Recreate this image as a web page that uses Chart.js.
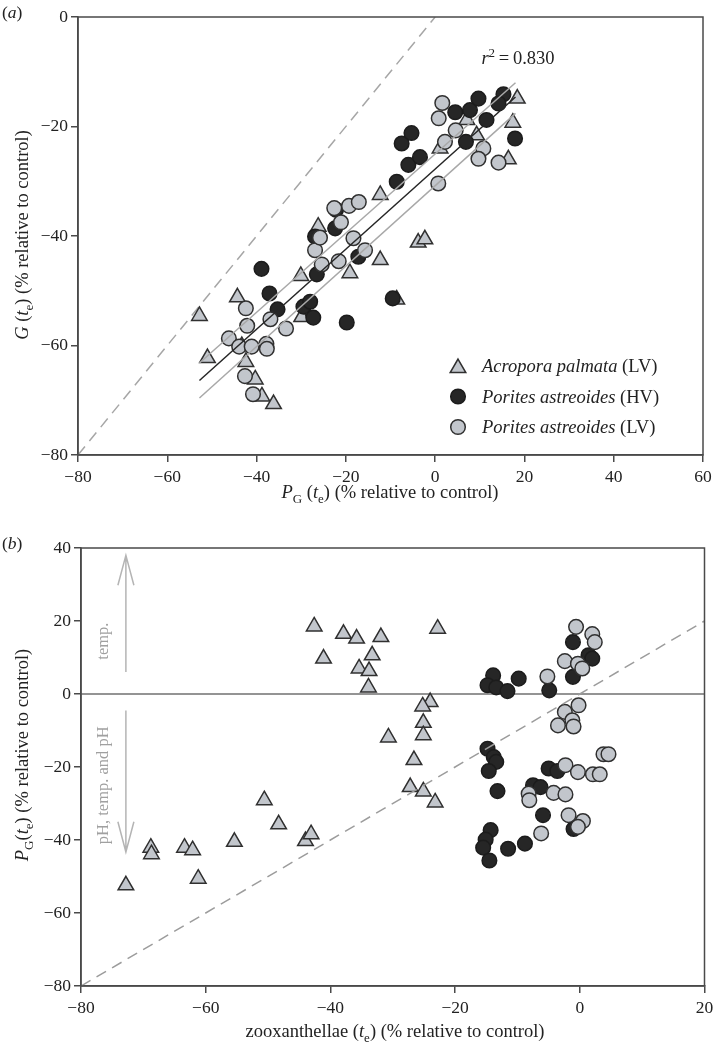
<!DOCTYPE html>
<html>
<head>
<meta charset="utf-8">
<script src="https://cdn.jsdelivr.net/npm/chart.js@4.4.1/dist/chart.umd.min.js"></script>
<style>
body { margin: 0; background: #fff; }
canvas { display: block; }
</style>
</head>
<body>
<canvas id="chartA" width="715" height="510"></canvas>
<canvas id="chartB" width="715" height="538"></canvas>
<script>
// panel (a): PG(te) vs G(te)
const aTicksX = [-80, -60, -40, -20, 0, 20, 40, 60];
const aTicksY = [-80, -60, -40, -20, 0];
const aAcropora = [[-52.8,-54.6],[-51,-62.3],[-44.3,-51.2],[-43.3,-60.1],[-42.4,-63],[-40.3,-66.2],[-38.8,-69.3],[-36.2,-70.7],
  [-30.1,-47.3],[-29.9,-54.8],[-26.2,-38.3],[-19.1,-46.8],[-12.3,-32.5],[-12.3,-44.4],[-3.8,-41.2],[-2.3,-40.6],[-8.6,-51.6],
  [1.1,-24],[7.1,-18.8],[9.3,-21.6],[16.4,-26],[17.4,-19.3],[18.4,-14.9]];
const aPoritesHV = [[-38.9,-46],[-37.1,-50.5],[-35.3,-53.4],[-29.5,-52.9],[-28,-52],[-27.3,-54.9],[-19.8,-55.8],[-26.5,-47],
  [-26.9,-40.1],[-22.4,-38.6],[-22.2,-35.2],[-17.2,-43.8],[-9.5,-51.4],[-8.6,-30.1],[-6,-27],[-3.4,-25.6],[-7.5,-23.1],
  [-5.3,-21.2],[4.5,-17.4],[7.8,-17],[9.7,-14.9],[11.5,-18.8],[6.9,-22.8],[15.3,-14.1],[14.2,-15.8],[17.9,-22.2]];
const aPoritesLV = [[-46.2,-58.7],[-43.9,-60.2],[-42.4,-53.2],[-42.1,-56.4],[-41.1,-60.2],[-37.8,-59.7],[-37.7,-60.6],
  [-36.9,-55.2],[-33.4,-56.9],[-42.6,-65.6],[-40.8,-68.9],[-26.9,-42.6],[-25.4,-45.2],[-25.8,-40.3],[-21.6,-44.6],
  [-21.1,-37.5],[-22.6,-34.9],[-19.3,-34.5],[-17.1,-33.8],[-18.3,-40.4],[-15.7,-42.6],[0.7,-30.4],[1.6,-15.7],[0.8,-18.5],
  [4.6,-20.7],[2.2,-22.8],[10.8,-24],[9.7,-25.9],[14.2,-26.6]];
const aFitX = [-52.8, 18];
const aFitMid = [-66.4, -14.6];
const aFitUp = [-63.2, -12];
const aFitLow = [-69.6, -17.6];
const aOneToOne = [[-80, -80], [0, 0]];

// panel (b): zooxanthellae(te) vs PG(te)
const bTicksX = [-80, -60, -40, -20, 0, 20];
const bTicksY = [-80, -60, -40, -20, 0, 20, 40];
const bAcropora = [[-72.8,-52.4],[-68.8,-42.1],[-68.7,-43.9],[-63.4,-42.1],[-62.1,-42.8],[-61.2,-50.6],[-55.4,-40.5],
  [-50.6,-29.1],[-48.3,-35.7],[-44,-40.3],[-43.1,-38.4],[-42.6,18.5],[-41.1,9.7],[-37.9,16.5],[-35.8,15.2],[-31.9,15.6],
  [-33.3,10.6],[-35.4,7],[-33.8,6.3],[-33.9,1.8],[-22.8,17.9],[-24,-2.2],[-25.2,-3.4],[-25.1,-7.9],[-25.1,-11.3],
  [-30.7,-11.9],[-26.6,-18.1],[-27.2,-25.5],[-25.1,-26.7],[-23.2,-29.7]];
const bPoritesHV = [[-13.9,5.1],[-14.8,2.4],[-13.4,1.8],[-11.6,0.8],[-9.8,4.2],[-4.9,1],[-1.1,14.2],[1.4,10.6],[2,9.7],
  [-1.1,4.7],[-14.8,-15],[-13.8,-17.3],[-13.4,-18.6],[-14.6,-21.1],[-13.2,-26.6],[-5,-20.4],[-3.6,-21.1],[-7.5,-25],
  [-6.3,-25.5],[-5.9,-33.2],[-1,-37],[-14.3,-37.3],[-15.1,-39.9],[-15.5,-42.1],[-14.5,-45.6],[-11.5,-42.4],[-8.8,-41]];
const bPoritesLV = [[-0.6,18.4],[2,16.4],[2.4,14.2],[-2.4,9],[-0.3,8.3],[0.4,7],[-5.2,4.8],[-0.2,-3.1],[-2.4,-4.9],
  [-1.2,-7.2],[-3.5,-8.6],[-1,-8.9],[3.8,-16.5],[4.6,-16.5],[-2.3,-19.5],[-0.3,-21.4],[2.1,-22],[3.2,-22],[-8.2,-27.3],
  [-8.1,-29.1],[-4.2,-27.1],[-2.3,-27.5],[-1.8,-33.2],[0.5,-34.8],[-0.3,-36.4],[-6.2,-38.2]];
const bOneToOne = [[-80, -80], [20, 20]];
const bZero = [[-80, 0], [20, 0]];

const FONT = '"Liberation Serif", "DejaVu Serif", serif';
const LIGHT = '#c2c6cc';
const DARK = '#262626';
const EDGE = '#303030';
const AXIS = '#4a4a4a';
const TITLE_SIZE = 18.5;

const pts = arr => arr.map(p => ({ x: p[0], y: p[1] }));
const minus = v => String(v).replace('-', '\u2212');

// text with italic / sub / sup pieces, y is the vertical middle
function rich(ctx, parts, x, y, size, align) {
	const fontOf = st => (st === 'i' ? 'italic ' : '') +
		((st === 'sub' || st === 'sup') ? Math.round(size * 0.7) : size) + 'px ' + FONT;
	let w = 0;
	parts.forEach(p => { ctx.font = fontOf(p[1]); w += ctx.measureText(p[0]).width; });
	let cx = align === 'left' ? x : x - w / 2;
	ctx.textAlign = 'left';
	ctx.textBaseline = 'alphabetic';
	const base = y + size * 0.33;
	parts.forEach(p => {
		ctx.font = fontOf(p[1]);
		const dy = p[1] === 'sub' ? size * 0.25 : (p[1] === 'sup' ? -size * 0.38 : 0);
		ctx.fillText(p[0], cx, base + dy);
		cx += ctx.measureText(p[0]).width;
	});
}

function richUp(ctx, parts, x, y, size) {
	ctx.save();
	ctx.translate(x, y);
	ctx.rotate(-Math.PI / 2);
	rich(ctx, parts, 0, 0, size, 'center');
	ctx.restore();
}

function drawTri(ctx, x, y, r) {
	ctx.beginPath();
	for (let k = 0; k < 3; k++) {
		const a = k * 2 * Math.PI / 3;
		const px = x + Math.sin(a) * r, py = y - Math.cos(a) * r;
		if (k === 0) ctx.moveTo(px, py); else ctx.lineTo(px, py);
	}
	ctx.closePath();
	ctx.fill();
	ctx.stroke();
}

function drawDot(ctx, x, y, r) {
	ctx.beginPath();
	ctx.arc(x, y, r, 0, Math.PI * 2);
	ctx.fill();
	ctx.stroke();
}

function scatterSet(data, style, fill, border, order) {
	return {
		data: pts(data), pointStyle: style, pointRadius: style === 'triangle' ? 9 : 7.3,
		pointBackgroundColor: fill, pointBorderColor: border, pointBorderWidth: 1.5,
		showLine: false, order: order
	};
}

function lineSet(data, color, dash, order) {
	return {
		data: pts(data), showLine: true, pointRadius: 0, borderColor: color,
		borderWidth: 1.5, borderDash: dash, order: order, fill: false
	};
}

function axis(ticks, min, max, isY, size) {
	return {
		type: 'linear', min: min, max: max,
		afterBuildTicks: s => { s.ticks = ticks.map(v => ({ value: v })); },
		afterFit: s => {
			if (isY) { s.width = size; s.paddingTop = 0; s.paddingBottom = 0; }
			else { s.height = size; s.paddingLeft = 0; s.paddingRight = 0; }
		},
		border: { display: true, color: AXIS, width: 1.5 },
		grid: { drawOnChartArea: false, drawTicks: true, tickLength: 7, tickColor: AXIS, lineWidth: 1.5 },
		ticks: { font: { family: FONT, size: 17.5 }, color: '#222', padding: isY ? 3 : 5, callback: minus, maxRotation: 0 }
	};
}

const framePlugin = {
	id: 'frame',
	afterDatasetsDraw(chart) {
		const a = chart.chartArea, ctx = chart.ctx;
		ctx.save();
		ctx.strokeStyle = AXIS;
		ctx.lineWidth = 1.5;
		ctx.strokeRect(a.left, a.top, a.right - a.left, a.bottom - a.top);
		ctx.restore();
	}
};

const baseOptions = {
	responsive: false,
	animation: false,
	devicePixelRatio: 1,
	plugins: { legend: { display: false }, tooltip: { enabled: false } }
};

// 패널 (a)
new Chart(document.getElementById('chartA'), {
	type: 'scatter',
	data: {
		datasets: [
			lineSet([[aFitX[0], aFitMid[0]], [aFitX[1], aFitMid[1]]], '#262626', [], 0),
			lineSet([[aFitX[0], aFitUp[0]], [aFitX[1], aFitUp[1]]], '#a8a8a8', [], 1),
			lineSet([[aFitX[0], aFitLow[0]], [aFitX[1], aFitLow[1]]], '#a8a8a8', [], 1),
			scatterSet(aPoritesLV, 'circle', LIGHT, EDGE, 2),
			scatterSet(aPoritesHV, 'circle', DARK, '#1c1c1c', 3),
			scatterSet(aAcropora, 'triangle', LIGHT, EDGE, 4),
			lineSet(aOneToOne, '#a6a6a6', [11, 7], 5)
		]
	},
	options: Object.assign({}, baseOptions, {
		layout: { padding: { top: 17, right: 12, left: 0, bottom: 0 } },
		scales: { x: axis(aTicksX, -80, 60, false, 55), y: axis(aTicksY, -80, 0, true, 78) }
	}),
	plugins: [framePlugin, {
		id: 'textA',
		afterDraw(chart) {
			const ctx = chart.ctx;
			ctx.save();
			ctx.fillStyle = '#222';
			rich(ctx, [['(', ''], ['a', 'i'], [')', '']], 2, 12, 17.5, 'left');
			rich(ctx, [['P', 'i'], ['G', 'sub'], [' (', ''], ['t', 'i'], ['e', 'sub'], [') (% relative to control)', '']], 390, 492, TITLE_SIZE);
			richUp(ctx, [['G', 'i'], [' (', ''], ['t', 'i'], ['e', 'sub'], [') (% relative to control)', '']], 22, 235, TITLE_SIZE);
			rich(ctx, [['r', 'i'], ['2', 'sup'], ['\u2009=\u20090.830', '']], 518, 58, 18.5);
			// legend
			const rows = [
				['triangle', LIGHT, EDGE, 'Acropora palmata', ' (LV)'],
				['circle', DARK, '#1c1c1c', 'Porites astreoides', ' (HV)'],
				['circle', LIGHT, EDGE, 'Porites astreoides', ' (LV)']
			];
			rows.forEach((r, i) => {
				const y = 366 + i * 30.5;
				ctx.fillStyle = r[1];
				ctx.strokeStyle = r[2];
				ctx.lineWidth = 1.5;
				if (r[0] === 'triangle') drawTri(ctx, 458, y + 2, 9); else drawDot(ctx, 458, y, 7.3);
				ctx.fillStyle = '#222';
				rich(ctx, [[r[3], 'i'], [r[4], '']], 482, y, 18.5, 'left');
			});
			ctx.restore();
		}
	}]
});

// 패널 (b)
const arrowX = -72.8;
const upArrow = [6, 38, 29.8];
const downArrow = [-4.5, -43.3, -35];

new Chart(document.getElementById('chartB'), {
	type: 'scatter',
	data: {
		datasets: [
			lineSet(bOneToOne, '#9c9c9c', [11, 7], 0),
			scatterSet(bPoritesLV, 'circle', LIGHT, EDGE, 1),
			scatterSet(bPoritesHV, 'circle', DARK, '#1c1c1c', 2),
			scatterSet(bAcropora, 'triangle', LIGHT, EDGE, 3),
			lineSet(bZero, '#707070', [], 4)
		]
	},
	options: Object.assign({}, baseOptions, {
		layout: { padding: { top: 38, right: 9, left: 0, bottom: 0 } },
		scales: { x: axis(bTicksX, -80, 20, false, 62), y: axis(bTicksY, -80, 40, true, 81) }
	}),
	plugins: [framePlugin, {
		id: 'textB',
		beforeDatasetsDraw(chart) {
			const ctx = chart.ctx, sx = chart.scales.x, sy = chart.scales.y;
			const ax = sx.getPixelForValue(arrowX);
			ctx.save();
			ctx.strokeStyle = '#b4b4b4';
			ctx.lineWidth = 1.5;
			[upArrow, downArrow].forEach(a => {
				const y0 = sy.getPixelForValue(a[0]), y1 = sy.getPixelForValue(a[1]), yw = sy.getPixelForValue(a[2]);
				ctx.beginPath();
				ctx.moveTo(ax, y0); ctx.lineTo(ax, y1);
				ctx.moveTo(ax - 8, yw); ctx.lineTo(ax, y1); ctx.lineTo(ax + 8, yw);
				ctx.stroke();
			});
			ctx.fillStyle = '#a0a0a0';
			richUp(ctx, [['temp.', '']], sx.getPixelForValue(-76.6), sy.getPixelForValue(14.5), 16.5);
			richUp(ctx, [['pH, temp. and pH', '']], sx.getPixelForValue(-76.6), sy.getPixelForValue(-25), 16.5);
			ctx.restore();
		},
		afterDraw(chart) {
			const ctx = chart.ctx;
			ctx.save();
			ctx.fillStyle = '#222';
			rich(ctx, [['(', ''], ['b', 'i'], [')', '']], 2, 33, 17.5, 'left');
			rich(ctx, [['zooxanthellae (', ''], ['t', 'i'], ['e', 'sub'], [') (% relative to control)', '']], 395, 521, TITLE_SIZE);
			richUp(ctx, [['P', 'i'], ['G', 'sub'], ['(', ''], ['t', 'i'], ['e', 'sub'], [') (% relative to control)', '']], 22, 245, TITLE_SIZE);
			ctx.restore();
		}
	}]
});
</script>
</body>
</html>
